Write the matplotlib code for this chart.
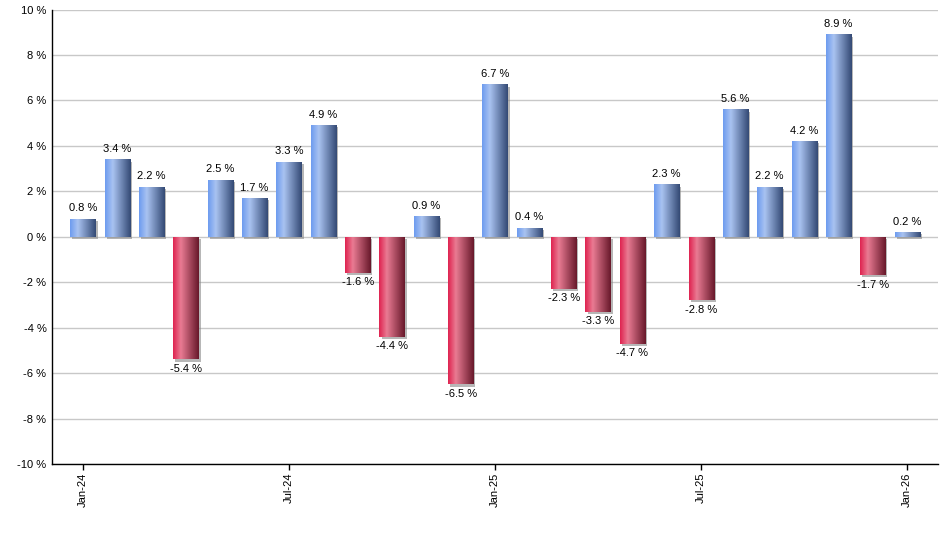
import numpy as np
import matplotlib
matplotlib.use("Agg")
import matplotlib.pyplot as plt
from matplotlib.colors import LinearSegmentedColormap
import matplotlib.patheffects as pe

plt.rcParams['font.family'] = ['Liberation Sans', 'DejaVu Sans']

months = ["Jan-24", "Feb-24", "Mar-24", "Apr-24", "May-24", "Jun-24", "Jul-24",
          "Aug-24", "Sep-24", "Oct-24", "Nov-24", "Dec-24", "Jan-25", "Feb-25",
          "Mar-25", "Apr-25", "May-25", "Jun-25", "Jul-25", "Aug-25", "Sep-25",
          "Oct-25", "Nov-25", "Dec-25", "Jan-26"]
returns = [0.8, 3.4, 2.2, -5.4, 2.5, 1.7, 3.3, 4.9, -1.6, -4.4, 0.9, -6.5, 6.7,
           0.4, -2.3, -3.3, -4.7, 2.3, -2.8, 5.6, 2.2, 4.2, 8.9, -1.7, 0.2]
tick_labels = ["Jan-24", "Jul-24", "Jan-25", "Jul-25", "Jan-26"]
yticks = [-10, -8, -6, -4, -2, 0, 2, 4, 6, 8, 10]

blue_cmap = LinearSegmentedColormap.from_list(
    "b", [(0, "#6e9cef"), (0.3, "#a9c3f1"), (1.0, "#344a75")])
red_cmap = LinearSegmentedColormap.from_list(
    "r", [(0, "#df2450"), (0.3, "#e97b93"), (1.0, "#68192b")])

fig = plt.figure(figsize=(9.4, 5.5), dpi=100)
ax = fig.add_axes([52 / 940, 1 - 464 / 550, (938 - 52) / 940, (464 - 9.5) / 550])

x = np.arange(len(months))
grad = np.linspace(0, 1, 64).reshape(1, -1)
bars = ax.bar(x, returns, width=0.73, color="#8aa8e0", zorder=3,
              path_effects=[pe.SimplePatchShadow(offset=(1.5, -1.5), shadow_rgbFace="#888888", alpha=0.6),
                            pe.Normal()])
for b, v in zip(bars, returns):
    x0, w = b.get_x(), b.get_width()
    y0, h = b.get_y(), b.get_height()
    cmap = blue_cmap if v >= 0 else red_cmap
    im = ax.imshow(grad, cmap=cmap, aspect="auto", extent=(x0, x0 + w, y0, y0 + h),
                   zorder=4, interpolation="bilinear")
    im.set_clip_path(b)
    if v >= 0:
        ax.annotate(f"{v:.1f} %", (x0 + w / 2, y0 + h), xytext=(0, 4),
                    textcoords="offset points", ha="center", va="bottom", fontsize=8, zorder=5)
    else:
        ax.annotate(f"{v:.1f} %", (x0 + w / 2, y0 + h), xytext=(0, -3),
                    textcoords="offset points", ha="center", va="top", fontsize=8, zorder=5)

ax.set_xlim(-0.9, 24.9)
ax.set_ylim(-10, 10)
ax.set_yticks(yticks)
ax.set_yticklabels([f"{t} %" for t in yticks], fontsize=8)
ax.tick_params(axis="y", length=0, pad=4)
ax.set_xticks([months.index(t) for t in tick_labels])
ax.set_xticklabels(tick_labels, rotation=90, fontsize=8)
ax.tick_params(axis="x", length=4, width=1, pad=2)
ax.grid(axis="y", color="#c8c8c8", linewidth=1, zorder=0)
ax.set_axisbelow(True)
for s in ["top", "right"]:
    ax.spines[s].set_visible(False)
ax.spines["left"].set_linewidth(1)
ax.spines["bottom"].set_linewidth(1)

fig.savefig("out.png", dpi=100)
